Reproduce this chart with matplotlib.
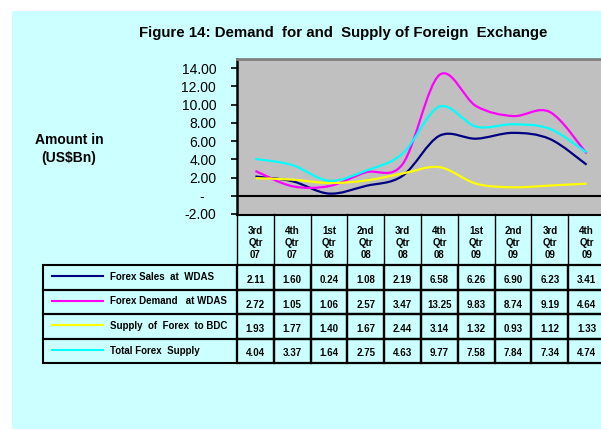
import numpy as np
import matplotlib
matplotlib.use("Agg")
import matplotlib.pyplot as plt
from matplotlib.path import Path
from matplotlib.patches import PathPatch, Rectangle

plt.rcParams['font.family'] = ['Liberation Sans', 'DejaVu Sans']

quarters = ["3rd\nQtr\n07", "4th\nQtr\n07", "1st\nQtr\n08", "2nd\nQtr\n08", "3rd\nQtr\n08",
            "4th\nQtr\n08", "1st\nQtr\n09", "2nd\nQtr\n09", "3rd\nQtr\n09", "4th\nQtr\n09"]
sales = [2.11, 1.60, 0.24, 1.08, 2.19, 6.58, 6.26, 6.90, 6.23, 3.41]
demand = [2.72, 1.05, 1.06, 2.57, 3.47, 13.25, 9.83, 8.74, 9.19, 4.64]
bdc = [1.93, 1.77, 1.40, 1.67, 2.44, 3.14, 1.32, 0.93, 1.12, 1.33]
total = [4.04, 3.37, 1.64, 2.75, 4.63, 9.77, 7.58, 7.84, 7.34, 4.74]
series_names = ["Forex Sales  at  WDAS", "Forex Demand   at WDAS",
                "Supply  of  Forex  to BDC", "Total Forex  Supply"]
series = [sales, demand, bdc, total]
colors = ["#000080", "#FF00FF", "#FFFF00", "#00FFFF"]
yticks = [-2, 0, 2, 4, 6, 8, 10, 12, 14]
ytick_labels = ["-2.00", "-   ", "2.00", "4.00", "6.00", "8.00", "10.00", "12.00", "14.00"]

W, H = 601, 430
fig = plt.figure(figsize=(W / 100, H / 100), dpi=100)
fig.patch.set_facecolor("white")
fig.patches.append(Rectangle((12 / W, 1 / H), (W - 12) / W, (H - 12) / H,
                             transform=fig.transFigure, facecolor="#CCFFFF",
                             edgecolor="none", zorder=-10))


def smooth_path(x, y):
    # excel style smoothed line, bezier segments through the points
    pts = np.column_stack([x, y]).astype(float)
    ext = np.vstack([pts[0], pts, pts[-1]])
    verts = [pts[0]]
    codes = [Path.MOVETO]
    for k in range(len(pts) - 1):
        p0, p1, p2, p3 = ext[k], ext[k + 1], ext[k + 2], ext[k + 3]
        verts += [p1 + (p2 - p0) / 6, p2 - (p3 - p1) / 6, p2]
        codes += [Path.CURVE4] * 3
    return Path(verts, codes)


col_w = 36.8  # pixels per category
left_px, right_px = 237, 605
top_px, bot_px = 59, 214

ax = fig.add_axes([left_px / W, 1 - bot_px / H, (right_px - left_px) / W, (bot_px - top_px) / H])
ax.set_facecolor("#C0C0C0")
ax.set_xlim(-0.5, 9.5)
ax.set_ylim(-2, 15)
x = np.arange(len(quarters))
ax.axhline(0, color="black", lw=1.5, zorder=2)
for vals, c in zip(series, colors):
    ax.add_patch(PathPatch(smooth_path(x, vals), facecolor="none", edgecolor=c, lw=1.6, zorder=3))
ax.set_xticks([])
ax.set_yticks(yticks)
ax.set_yticklabels(ytick_labels)
ax.tick_params(axis="y", direction="out", length=4, width=1.2, labelsize=10, pad=11)
ax.spines["left"].set_color("black")
ax.spines["left"].set_linewidth(1.8)
ax.spines["top"].set_color("#808080")
ax.spines["top"].set_linewidth(2)
ax.spines["right"].set_visible(False)
ax.spines["bottom"].set_visible(False)

fig.text(343 / W, 1 - 33 / H, "Figure 14: Demand  for and  Supply of Foreign  Exchange",
         ha="center", va="center", fontsize=10.8, fontweight="bold")
fig.text(69 / W, 1 - 149 / H, "Amount in\n(US$Bn)", ha="center", va="center",
         fontsize=10, fontweight="bold", linespacing=1.3)

# data table below the chart
tab_left, tab_bot = 43, 363
tax = fig.add_axes([tab_left / W, 1 - tab_bot / H, (right_px - tab_left) / W, (tab_bot - bot_px) / H])
xl = -0.5 - (left_px - tab_left) / col_w
tax.set_xlim(xl, 9.5)
tax.set_ylim(tab_bot, bot_px)
tax.axis("off")


def tx(px):
    return -0.5 + (px - left_px) / col_w


head_bot = 265
row_h = (tab_bot - head_bot) / 4
tax.plot([-0.5, 9.5], [bot_px + 0.5, bot_px + 0.5], color="black", lw=1.5, clip_on=False)
for i in range(len(quarters) + 1):
    tax.plot([i - 0.5, i - 0.5], [bot_px, head_bot], color="black", lw=1.0, clip_on=False)
for i, q in enumerate(quarters):
    tax.text(i, 243, q, ha="center", va="center", fontsize=7, fontweight="bold", linespacing=1.2)

for r, (name, vals, c) in enumerate(zip(series_names, series, colors)):
    y0 = head_bot + r * row_h
    tax.add_patch(Rectangle((xl, y0), -0.5 - xl, row_h, fill=False, edgecolor="black",
                            lw=1.5, clip_on=False))
    tax.plot([tx(52), tx(103)], [y0 + 11, y0 + 11], color=c, lw=1.5, clip_on=False)
    tax.text(tx(110), y0 + 12, name, ha="left", va="center", fontsize=7, fontweight="bold")
    for i, v in enumerate(vals):
        tax.add_patch(Rectangle((i - 0.5, y0), 1, row_h, fill=False, edgecolor="black",
                                lw=1.6, clip_on=False))
        tax.text(i, y0 + 15, f"{v:.2f}", ha="center", va="center", fontsize=7, fontweight="bold")

fig.savefig("out.png", dpi=100)
